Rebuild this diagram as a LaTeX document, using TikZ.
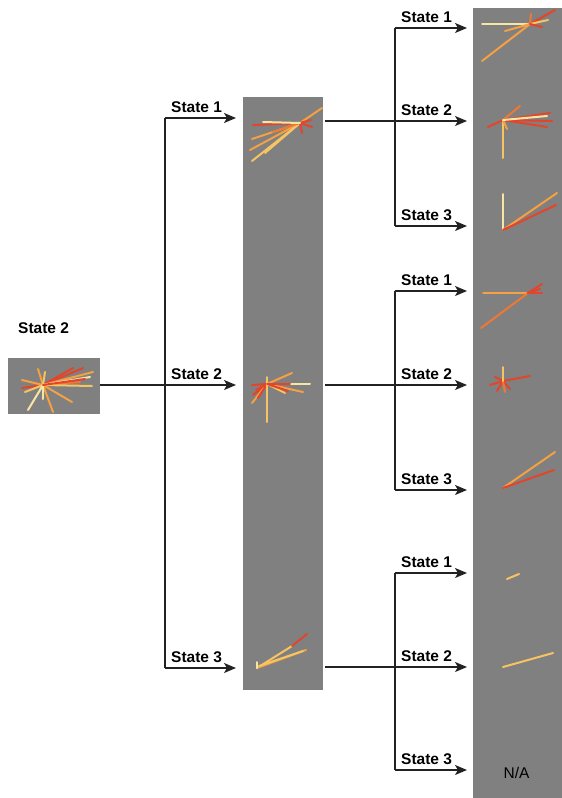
\documentclass[tikz,border=0pt]{standalone}
\usepackage{fontspec}
\setmainfont{Liberation Sans}
\usetikzlibrary{arrows.meta}
\definecolor{panel}{HTML}{808080}
\definecolor{ink}{HTML}{222222}
\definecolor{ly}{HTML}{F6E6A4}
\definecolor{yl}{HTML}{F7C463}
\definecolor{orr}{HTML}{F5A043}
\definecolor{dor}{HTML}{F07832}
\definecolor{rd}{HTML}{E4442A}
\tikzset{
  conn/.style={draw=ink, line width=1.4pt},
  arrowto/.style={conn, -{Stealth[length=12pt,width=10pt,inset=3pt]}},
  lbl/.style={font=\fontsize{15.5}{18}\selectfont\bfseries, text=black, inner sep=0pt, anchor=base west},
  ray/.style={line width=2pt, line cap=round},
}
\begin{document}
\begin{tikzpicture}[x=1pt, y=-1pt]
\useasboundingbox (0,0) rectangle (562,798);

% ---------- panels ----------
\fill[panel] (8,358) rectangle (100,414);
\node[inner sep=0pt, minimum width=92pt, minimum height=56pt] (src) at (54,386) {};
\fill[panel] (243,97) rectangle (323,690);
\node[inner sep=0pt, minimum width=80pt, minimum height=593pt] (mid) at (283,393.5) {};
\fill[panel] (473,8) rectangle (562,798);
\node[inner sep=0pt, minimum width=89pt, minimum height=790pt] (out) at (517.5,403) {};

\node[lbl] (srclbl) at (18,333) {State 2};

% ---------- first split ----------
\coordinate (t1) at (165,118);
\coordinate (t2) at (165,385);
\coordinate (t3) at (165,668);
\coordinate (e1) at (236,118);
\coordinate (e2) at (236,385);
\coordinate (e3) at (236,668);
\draw[conn] (src.east |- t2) -- (t2);
\draw[conn] (t1) -- (t3);
\draw[arrowto] (t1) -- (e1);
\draw[arrowto] (t2) -- (e2);
\draw[arrowto] (t3) -- (e3);
\node[lbl] (l1) at (171,112) {State 1};
\node[lbl] (l2) at (171,379) {State 2};
\node[lbl] (l3) at (171,662) {State 3};

% ---------- second split ----------
\foreach \g/\ys/\a/\b/\c in {A/121/28/121/226, B/385/291/385/490, C/667/573/667/770}{
  \coordinate (s\g) at (325,\ys);
  \coordinate (j\g) at (395,\ys);
  \coordinate (ja\g) at (395,\a);
  \coordinate (jc\g) at (395,\c);
  \coordinate (ea\g) at (467,\a);
  \coordinate (eb\g) at (467,\b);
  \coordinate (ec\g) at (467,\c);
  \draw[conn] (s\g) -- (j\g);
  \draw[conn] (ja\g) -- (jc\g);
  \draw[arrowto] (ja\g) -- (ea\g);
  \draw[arrowto] (j\g) -- (eb\g);
  \draw[arrowto] (jc\g) -- (ec\g);
  \node[lbl] at (401,\a-6) {State 1};
  \node[lbl] at (401,\b-6) {State 2};
  \node[lbl] at (401,\c-6) {State 3};
}

\node[font=\fontsize{15.5}{18}\selectfont, text=black, inner sep=0pt] (na) at (516.5,773) {N/A};

% ---------- ray plots ----------
% source
\foreach \x/\y/\c in {73/368/rd, 83/368/rd, 93/372/orr, 80/382/dor, 22/388/rd, 22/380/orr,
  38/369/orr, 45/372/yl, 90/377/ly, 92/386/yl, 72/402/orr, 53/412/orr, 25/392/yl,
  28/410/ly, 43/399/ly, 85/379/rd}
  \draw[ray,\c] (43,385) -- (\x,\y);

% middle, state 1
\foreach \x/\y/\c in {253/125/rd, 322/108/orr, 252/139/orr, 250/150/orr, 252/161/yl,
  265/153/yl, 273/132/dor, 312/127/rd, 302/133/rd, 311/120/rd, 263/122/ly}
  \draw[ray,\c] (300,123) -- (\x,\y);

% middle, state 2
\foreach \x/\y/\c in {252/385/rd, 253/395/rd, 252/403/orr, 256/390/rd, 258/398/rd,
  292/373/orr, 303/392/orr, 285/393/yl, 288/391/rd, 267/377/yl, 267/422/yl}
  \draw[ray,\c] (267,384) -- (\x,\y);
\draw[ray,ly] (290,384) -- (310,384);
\draw[ray,rd] (267,384) -- (290,384);

% middle, state 3
\draw[ray,yl] (257,668) -- (292,646);
\draw[ray,rd] (292,646) -- (307,634);
\draw[ray,orr] (257,668) -- (306,650);
\draw[ray,yl] (259,666) -- (303,651);
\draw[ray,ly] (257,668) -- (257,662);

% right column
\foreach \x/\y/\c in {482/24/ly, 482/61/orr, 555/10/rd, 548/20/yl, 505/31/orr,
  531/14/dor, 542/27/rd}
  \draw[ray,\c] (530,24) -- (\x,\y);

\foreach \x/\y/\c in {503/158/yl, 520/106/dor, 550/113/rd, 552/121/rd, 547/127/rd,
  488/127/rd, 507/129/orr, 547/116/ly}
  \draw[ray,\c] (503,120) -- (\x,\y);

\draw[ray,ly] (503,230) -- (503,194);
\draw[ray,orr] (503,230) -- (557,193);
\draw[ray,rd] (503,230) -- (556,205);

\foreach \x/\y/\c in {483/293/orr, 481/328/dor, 542/284/rd, 542/293/rd, 540/289/rd}
  \draw[ray,\c] (528,293) -- (\x,\y);

\foreach \x/\y/\c in {530/376/rd, 495/377/rd, 497/391/rd, 490/385/rd, 510/389/rd,
  505/392/dor, 503/367/yl}
  \draw[ray,\c] (503,381) -- (\x,\y);

\draw[ray,orr] (503,488) -- (555,452);
\draw[ray,rd] (503,488) -- (554,470);

\draw[ray,yl] (507,579) -- (519,574);
\draw[ray,yl] (503,667) -- (553,653);
\end{tikzpicture}
\end{document}
